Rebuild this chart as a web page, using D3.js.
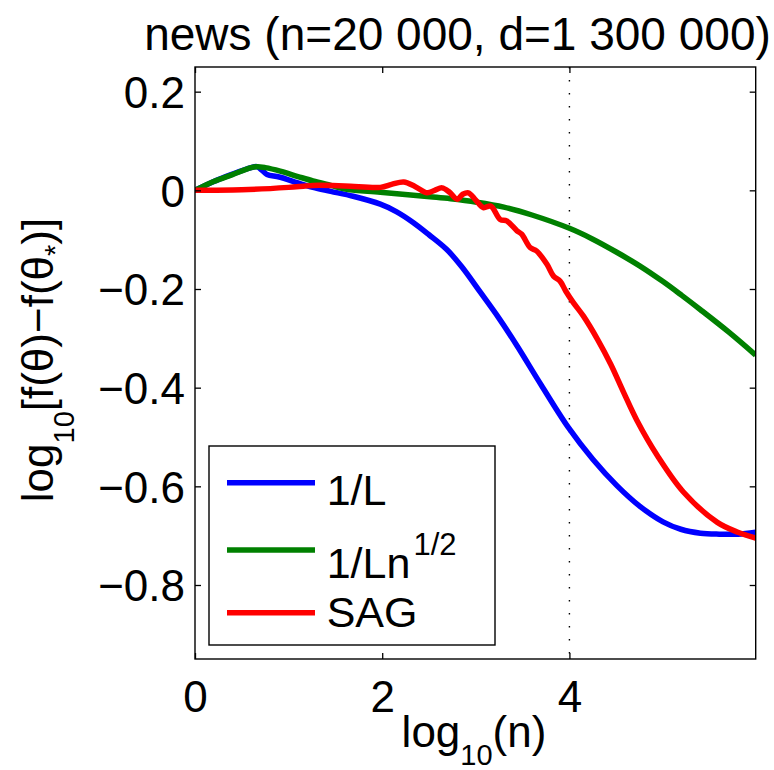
<!DOCTYPE html>
<html>
<head>
<meta charset="utf-8">
<script src="https://cdn.jsdelivr.net/npm/d3@7"></script>
<style>
  html, body { margin: 0; padding: 0; background: #fff; }
  svg { display: block; font-family: "Liberation Sans", Arial, Helvetica, sans-serif; }
</style>
</head>
<body>
<svg id="chart" width="774" height="770"></svg>
<script>
// ---- data ----
const titleText = "news (n=20 000, d=1 300 000)";
const xTicks = [0, 2, 4];
const yTicks = [0.2, 0, -0.2, -0.4, -0.6, -0.8];
const xDomain = [0, 5.99];
const yDomain = [-0.95, 0.25];
const vLineX = 4;

const seriesNames = ["1/L", "1/Ln", "SAG"];
const seriesColors = ["#0000ff", "#008000", "#ff0000"];

const blueX = [0, 0.2, 0.4, 0.6, 0.66, 0.72, 0.77, 0.9, 1.1, 1.26, 1.45, 1.69, 1.98, 2.15, 2.33, 2.5, 2.69, 2.85, 3.05, 3.25, 3.44, 3.7, 3.99, 4.25, 4.51, 4.75, 5.0, 5.19, 5.4, 5.6, 5.8, 5.99];
const blueY = [0, 0.018, 0.033, 0.046, 0.048, 0.040, 0.032, 0.027, 0.015, 0.006, -0.002, -0.012, -0.028, -0.043, -0.065, -0.09, -0.12, -0.155, -0.207, -0.26, -0.315, -0.395, -0.481, -0.545, -0.599, -0.64, -0.672, -0.687, -0.695, -0.697, -0.697, -0.693];

const greenX = [0, 0.2, 0.4, 0.6, 0.66, 0.75, 0.91, 1.1, 1.26, 1.45, 1.62, 1.98, 2.51, 2.73, 3.01, 3.3, 3.6, 4.0, 4.25, 4.51, 4.75, 5.0, 5.2, 5.4, 5.7, 5.99];
const greenY = [0, 0.018, 0.032, 0.046, 0.048, 0.046, 0.039, 0.028, 0.019, 0.01, 0.002, -0.004, -0.013, -0.017, -0.024, -0.034, -0.05, -0.077, -0.099, -0.126, -0.153, -0.185, -0.213, -0.242, -0.287, -0.334];

const redX = [0, 0.5, 1.0, 1.26, 1.6, 1.98, 2.1, 2.23, 2.35, 2.48, 2.56, 2.64, 2.72, 2.8, 2.86, 2.92, 3.0, 3.08, 3.16, 3.26, 3.33, 3.44, 3.49, 3.58, 3.65, 3.76, 3.83, 3.9, 3.96, 4.04, 4.15, 4.3, 4.44, 4.58, 4.72, 4.94, 5.22, 5.58, 5.8, 5.99];
const redY = [0, 0.001, 0.006, 0.01, 0.009, 0.006, 0.012, 0.017, 0.008, -0.005, 0.0, 0.005, -0.004, -0.018, -0.008, -0.005, -0.02, -0.035, -0.032, -0.059, -0.062, -0.082, -0.089, -0.116, -0.123, -0.15, -0.174, -0.184, -0.204, -0.227, -0.255, -0.302, -0.352, -0.41, -0.466, -0.538, -0.612, -0.673, -0.693, -0.705];

// ---- layout ----
const svg = d3.select("#chart");
const L = 195, R = 755.7, T = 67, B = 659;
const x = d3.scaleLinear().domain(xDomain).range([L, R]);
const y = d3.scaleLinear().domain(yDomain).range([B, T]);
const FS = 44;

svg.append("defs").append("clipPath").attr("id", "clip")
  .append("rect").attr("x", L).attr("y", T).attr("width", R - L).attr("height", B - T);

// dotted vertical line
svg.append("line")
  .attr("x1", x(vLineX)).attr("x2", x(vLineX))
  .attr("y1", T).attr("y2", B)
  .attr("stroke", "#000").attr("stroke-width", 1.4)
  .attr("stroke-dasharray", "1.4 11.6");

// curves
const series = [
  {xs: blueX, ys: blueY, c: seriesColors[0]},
  {xs: greenX, ys: greenY, c: seriesColors[1]},
  {xs: redX, ys: redY, c: seriesColors[2]}
];
const line = d3.line().x(d => x(d[0])).y(d => y(d[1])).curve(d3.curveCatmullRom.alpha(0.5));
const gCurves = svg.append("g").attr("clip-path", "url(#clip)");
series.forEach(s => {
  const pts = s.xs.map((v, i) => [v, s.ys[i]]);
  gCurves.append("path").attr("d", line(pts))
    .attr("fill", "none").attr("stroke", s.c)
    .attr("stroke-width", 5.5).attr("stroke-linejoin", "round").attr("stroke-linecap", "butt");
});

// axes with inward ticks on all sides
const tickLen = 6;
const axB = svg.append("g").attr("transform", `translate(0,${B})`)
  .call(d3.axisBottom(x).tickValues(xTicks).tickSize(-tickLen).tickPadding(10).tickFormat(d3.format("d")));
const axT = svg.append("g").attr("transform", `translate(0,${T})`)
  .call(d3.axisTop(x).tickValues(xTicks).tickSize(-tickLen).tickFormat(""));
const fmtY = d => d === 0 ? "0" : d3.format(".1f")(d).replace("-", "\u2212");
const axL = svg.append("g").attr("transform", `translate(${L},0)`)
  .call(d3.axisLeft(y).tickValues(yTicks).tickSize(-tickLen).tickPadding(10).tickFormat(fmtY));
const axR = svg.append("g").attr("transform", `translate(${R},0)`)
  .call(d3.axisRight(y).tickValues(yTicks).tickSize(-tickLen).tickFormat(""));
[axB, axT, axL, axR].forEach(a => {
  a.select(".domain").remove();
  a.selectAll(".tick line").attr("stroke", "#000").attr("stroke-width", 1.3);
  a.selectAll("text").attr("fill", "#000").style("font-size", FS + "px")
    .style("font-family", '"Liberation Sans", Arial, Helvetica, sans-serif');
});
axB.selectAll("text").attr("dy", null).attr("y", 53);
axL.selectAll("text").attr("dy", "0.36em").attr("x", -10);

// frame
svg.append("rect").attr("x", L).attr("y", T).attr("width", R - L).attr("height", B - T)
  .attr("fill", "none").attr("stroke", "#000").attr("stroke-width", 1.4);

// title
svg.append("text").attr("x", 457.5).attr("y", 50).attr("text-anchor", "middle")
  .style("font-size", "46px").text(titleText);

// x label
const xl = svg.append("text").attr("x", 474).attr("y", 747).attr("text-anchor", "middle")
  .style("font-size", FS + "px");
xl.append("tspan").text("log");
xl.append("tspan").attr("dy", 18).style("font-size", "29px").text("10");
xl.append("tspan").attr("dy", -18).text("(n)");

// y label
const yl = svg.append("text").attr("transform", "translate(53,360) rotate(-90)")
  .attr("text-anchor", "middle").style("font-size", FS + "px");
yl.append("tspan").text("log");
yl.append("tspan").attr("dy", 21).style("font-size", "29px").text("10");
yl.append("tspan").attr("dy", -21).text("[f(\u03b8)\u2212f(\u03b8");
yl.append("tspan").attr("dy", 12).style("font-size", "29px").text("*");
yl.append("tspan").attr("dy", -12).text(")]");

// legend
const lg = svg.append("g");
lg.append("rect").attr("x", 209).attr("y", 446).attr("width", 286).attr("height", 199)
  .attr("fill", "#fff").attr("stroke", "#000").attr("stroke-width", 1.4);
const legY = [482.7, 550, 612.7];
const legBase = [505, 578, 626.7];
seriesNames.forEach((name, i) => {
  lg.append("line").attr("x1", 227).attr("x2", 315).attr("y1", legY[i]).attr("y2", legY[i])
    .attr("stroke", seriesColors[i]).attr("stroke-width", 5.5);
  const t = lg.append("text").attr("x", 326.7).attr("y", legBase[i]).style("font-size", "43px");
  t.append("tspan").text(name);
  if (i === 1) {
    t.append("tspan").attr("dx", 3).attr("dy", -23).style("font-size", "31px").text("1/2");
  }
});
</script>
</body>
</html>
